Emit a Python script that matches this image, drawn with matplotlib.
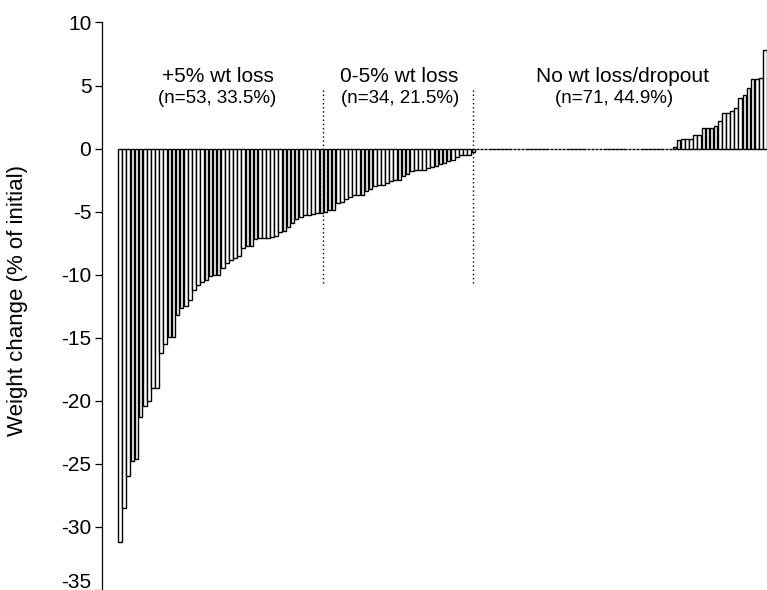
from __future__ import annotations

import matplotlib

matplotlib.use("Agg")
import matplotlib.pyplot as plt
import matplotlib.transforms as mtransforms
import numpy as np


OUT_PNG = "out.png"

# weight change (% of initial) per participant, sorted, one list per group
LOSS_OVER_5 = [
    -31.2, -28.5, -26.0, -24.8, -24.6, -21.3, -20.4, -20.0, -19.0, -19.0,
    -16.2, -15.5, -14.9, -14.9, -13.2, -12.6, -12.5, -12.0, -11.2, -10.8,
    -10.6, -10.4, -10.1, -10.05, -10.0, -9.5, -9.05, -8.8, -8.7, -8.5,
    -7.9, -7.7, -7.7, -7.15, -7.1, -7.1, -7.05, -7.0, -6.9, -6.6,
    -6.5, -6.2, -5.9, -5.6, -5.4, -5.3, -5.3, -5.15, -5.1, -5.1,
    -5.05, -4.9, -4.87,
]
LOSS_0_TO_5 = [
    -4.3, -4.2, -4.0, -3.85, -3.7, -3.7, -3.7, -3.4, -3.2, -2.95,
    -2.85, -2.85, -2.7, -2.55, -2.5, -2.45, -2.2, -2.05, -1.8, -1.7,
    -1.7, -1.7, -1.55, -1.45, -1.35, -1.25, -1.15, -1.0, -0.9, -0.65,
    -0.5, -0.5, -0.5, -0.3,
]
NO_LOSS_ZERO_COUNT = 48
NO_LOSS_GAIN = [
    0.15, 0.7, 0.8, 0.8, 0.8, 1.1, 1.1, 1.6, 1.6, 1.6,
    1.8, 2.2, 2.85, 2.85, 3.0, 3.2, 4.0, 4.25, 4.8, 5.5,
    5.55, 5.6, 7.8,
]

GROUP_TITLES = ["+5% wt loss", "0-5% wt loss", "No wt loss/dropout"]
GROUP_COUNTS = ["(n=53, 33.5%)", "(n=34, 21.5%)", "(n=71, 44.9%)"]
Y_TICKS = [10, 5, 0, -5, -10, -15, -20, -25, -30, -35]

# layout (data units)
TITLE_X = [23.9, 67.9, 122.2]
COUNT_X = [23.6, 68.3, 120.2]
TITLE_Y = 5.26
COUNT_Y = 3.59
DIVIDER_X = [49.35, 85.85]
DIVIDER_Y = (-10.65, 4.8)


def set_style() -> None:
    plt.rcParams.update(
        {
            "font.family": ["Liberation Sans", "DejaVu Sans"],
            "axes.unicode_minus": False,
            "ytick.labelsize": 15,
        }
    )


def plot() -> None:
    set_style()
    values = np.array(LOSS_OVER_5 + LOSS_0_TO_5 + [0.0] * NO_LOSS_ZERO_COUNT + NO_LOSS_GAIN)
    x = np.arange(len(values))

    fig = plt.figure(figsize=(7.67, 5.90), dpi=100)
    ax = fig.add_axes([101.7 / 767, 0.0, 1 - 101.7 / 767, 1 - 22.5 / 590])

    ax.bar(x, values, width=0.88, color="white", edgecolor="black", linewidth=1.0)

    for xd in DIVIDER_X:
        ax.plot([xd, xd], DIVIDER_Y, color="black", linewidth=1.0, linestyle=(0, (1, 2)))

    for title, tx in zip(GROUP_TITLES, TITLE_X):
        ax.text(tx, TITLE_Y, title, ha="center", va="baseline", fontsize=15)
    for count, cx in zip(GROUP_COUNTS, COUNT_X):
        ax.text(cx, COUNT_Y, count, ha="center", va="baseline", fontsize=13.5)

    ax.set_xlim(-4.47, len(values) - 0.5)
    ax.set_ylim(-35, 10)
    ax.set_yticks(Y_TICKS)
    ax.set_yticklabels([str(t) for t in Y_TICKS])
    ax.set_xticks([])
    ax.tick_params(axis="y", length=5, width=0.9, pad=2.5)
    ax.set_ylabel("Weight change (% of initial)", fontsize=16, va="center")
    ax.yaxis.set_label_coords(-0.126, 0.51)

    # bottom label sits at the figure edge; lift it so it stays readable
    lowest = ax.get_yticklabels()[-1]
    lowest.set_transform(lowest.get_transform() + mtransforms.ScaledTranslation(0, 10 / 100, fig.dpi_scale_trans))

    for side in ("top", "right", "bottom"):
        ax.spines[side].set_visible(False)
    ax.spines["left"].set_linewidth(0.9)

    fig.savefig(OUT_PNG, dpi=100)
    plt.close(fig)


def main() -> int:
    plot()
    return 0


if __name__ == "__main__":
    raise SystemExit(main())
